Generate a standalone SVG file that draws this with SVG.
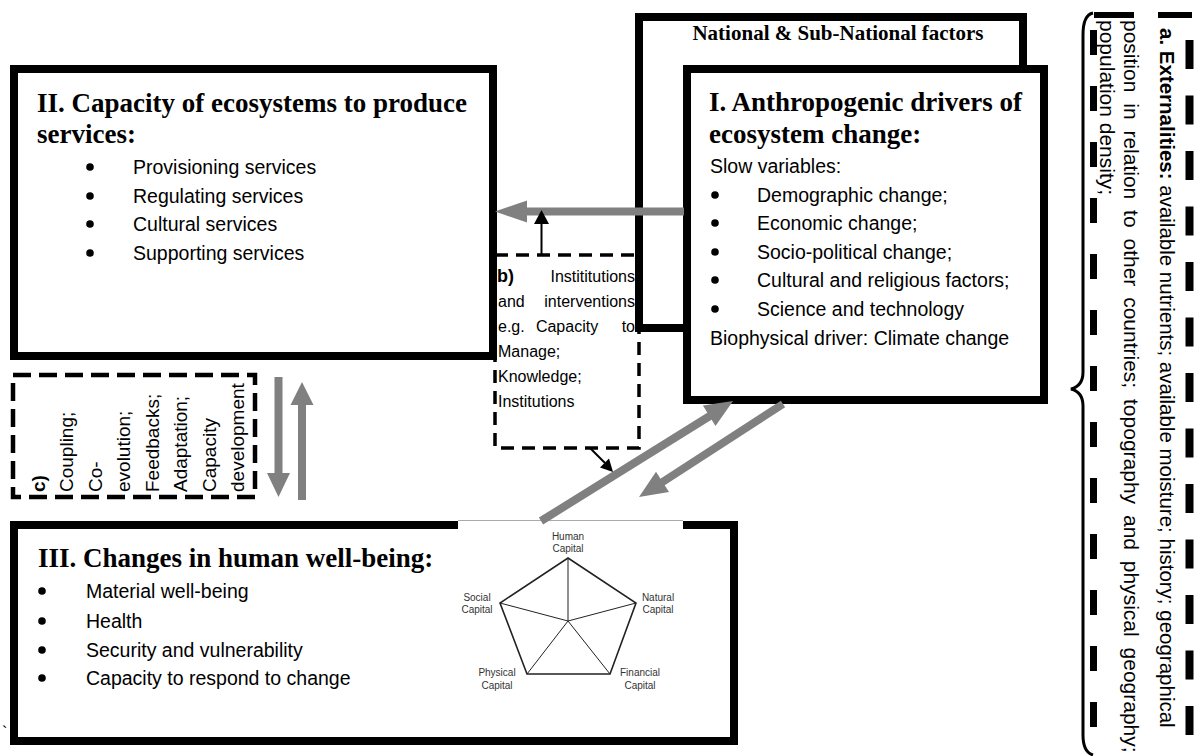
<svg xmlns="http://www.w3.org/2000/svg" width="1194" height="756" viewBox="0 0 1194 756">
<style>
.box{fill:#fff;stroke:#000;stroke-width:8}
.title{font-family:"Liberation Serif","Times New Roman",serif;font-weight:bold;font-size:27px;fill:#000}
.body{font-family:"Liberation Sans",Arial,sans-serif;font-size:19.5px;fill:#000}
.small{font-family:"Liberation Sans",Arial,sans-serif;font-size:16px;fill:#000}
.cap{font-family:"Liberation Sans",Arial,sans-serif;font-size:10px;fill:#333;text-anchor:middle}
.gray{stroke:#808080;stroke-width:8;fill:none}
.grayhead{fill:#808080}
.blk{stroke:#000;stroke-width:2;fill:none}
.blkhead{fill:#000}
.dash{fill:none;stroke:#000}
.bul{fill:#000}
</style>
<rect width="1194" height="756" fill="#fff"/>

<g id="national">
<rect class="box" x="639" y="17" width="384" height="311"/>
<text class="title" x="838" y="40" style="font-size:21px" text-anchor="middle">National &amp; Sub-National factors</text>
</g>

<g id="nodeI">
<rect class="box" x="687" y="69" width="357" height="331"/>
<text class="title" x="709" y="111">I. Anthropogenic drivers of</text>
<text class="title" x="709" y="143">ecosystem change:</text>
<text class="body" x="710" y="173">Slow variables:</text>
<g class="bul">
<circle cx="715" cy="195" r="3.8"/><circle cx="715" cy="223" r="3.8"/><circle cx="715" cy="252" r="3.8"/><circle cx="715" cy="280" r="3.8"/><circle cx="715" cy="309" r="3.8"/>
</g>
<g class="body">
<text x="757" y="202">Demographic change;</text>
<text x="757" y="230">Economic change;</text>
<text x="757" y="259">Socio-political change;</text>
<text x="757" y="287">Cultural and religious factors;</text>
<text x="757" y="316">Science and technology</text>
</g>
<text class="body" x="710" y="345">Biophysical driver: Climate change</text>
</g>

<g id="nodeII">
<rect class="box" x="14" y="69" width="479" height="287"/>
<text class="title" x="37" y="112">II. Capacity of ecosystems to produce</text>
<text class="title" x="37" y="143">services:</text>
<g class="bul">
<circle cx="90" cy="167" r="3.8"/><circle cx="90" cy="196" r="3.8"/><circle cx="90" cy="224" r="3.8"/><circle cx="90" cy="253" r="3.8"/>
</g>
<g class="body">
<text x="133" y="174">Provisioning services</text>
<text x="133" y="203">Regulating services</text>
<text x="133" y="231">Cultural services</text>
<text x="133" y="260">Supporting services</text>
</g>
</g>

<g id="nodeIII">
<rect class="box" x="14" y="525" width="720" height="216"/>
<rect x="458" y="518" width="225" height="13" fill="#fff"/>
<line x1="458" y1="520.5" x2="683" y2="520.5" stroke="#aaa" stroke-width="1"/>
<text class="title" x="38" y="567">III. Changes in human well-being:</text>
<g class="bul">
<circle cx="42" cy="591" r="3.8"/><circle cx="42" cy="621" r="3.8"/><circle cx="42" cy="650" r="3.8"/><circle cx="42" cy="678" r="3.8"/>
</g>
<g class="body">
<text x="86" y="598">Material well-being</text>
<text x="86" y="628">Health</text>
<text x="86" y="657">Security and vulnerability</text>
<text x="86" y="685">Capacity to respond to change</text>
</g>
<text x="2" y="738" style="font-family:'Liberation Sans',Arial,sans-serif;font-size:16px">`</text>
</g>

<g id="capitals">
<polygon points="568,558 636,603 610,674 527,674 500,603" fill="none" stroke="#222" stroke-width="1.6"/>
<g stroke="#222" stroke-width="1">
<line x1="568" y1="621" x2="568" y2="558"/>
<line x1="568" y1="621" x2="636" y2="603"/>
<line x1="568" y1="621" x2="610" y2="674"/>
<line x1="568" y1="621" x2="527" y2="674"/>
<line x1="568" y1="621" x2="500" y2="603"/>
</g>
<text class="cap" x="568" y="540">Human</text><text class="cap" x="568" y="552">Capital</text>
<text class="cap" x="477" y="601">Social</text><text class="cap" x="477" y="613">Capital</text>
<text class="cap" x="658" y="601">Natural</text><text class="cap" x="658" y="613">Capital</text>
<text class="cap" x="497" y="676">Physical</text><text class="cap" x="497" y="689">Capital</text>
<text class="cap" x="640" y="676">Financial</text><text class="cap" x="640" y="689">Capital</text>
</g>

<g id="nodeB">
<rect class="dash" x="495" y="255" width="144" height="193" stroke-width="3.5" stroke-dasharray="13 8"/>
<g class="small">
<text x="497" y="282" font-weight="bold" style="font-size:18px">b)</text>
<text x="635" y="282" text-anchor="end">Instititutions</text>
<text x="498" y="307">and</text>
<text x="635" y="307" text-anchor="end">interventions</text>
<text x="498" y="332">e.g.</text>
<text x="567" y="332" text-anchor="middle">Capacity</text>
<text x="635" y="332" text-anchor="end">to</text>
<text x="498" y="357">Manage;</text>
<text x="498" y="382">Knowledge;</text>
<text x="498" y="407">Institutions</text>
</g>
</g>

<g id="nodeC">
<rect class="dash" x="13" y="375" width="242" height="122" stroke-width="4.5" stroke-dasharray="18 8"/>
<g style="font-family:'Liberation Sans',Arial,sans-serif;font-size:19px">
<text transform="translate(45,492) rotate(-90)" font-weight="bold">c)</text>
<text transform="translate(73,492) rotate(-90)">Coupling;</text>
<text transform="translate(102,492) rotate(-90)">Co-</text>
<text transform="translate(130,492) rotate(-90)">evolution;</text>
<text transform="translate(159,492) rotate(-90)">Feedbacks;</text>
<text transform="translate(187,492) rotate(-90)">Adaptation;</text>
<text transform="translate(216,492) rotate(-90)">Capacity</text>
<text transform="translate(244,492) rotate(-90)">development</text>
</g>
</g>

<g id="nodeA">
<line x1="1094" y1="15" x2="1192" y2="15" stroke="#000" stroke-width="6" stroke-dasharray="40 24"/>
<line x1="1093.5" y1="30" x2="1093.5" y2="756" stroke="#000" stroke-width="7" stroke-dasharray="25 31"/>
<line x1="1189.5" y1="40" x2="1189.5" y2="756" stroke="#000" stroke-width="8" stroke-dasharray="29 26.5"/>
<path d="M1093,13 Q1083,15 1083,35 L1083,372 Q1083,386 1071,389 Q1083,392 1083,406 L1083,735 Q1083,752 1093,755" fill="none" stroke="#000" stroke-width="3"/>
<g style="font-family:'Liberation Sans',Arial,sans-serif;font-size:21px">
<text transform="translate(1160,28) rotate(90)" style="font-size:20.5px"><tspan font-weight="bold">a. Externalities:</tspan> available nutrients; available moisture; history; geographical</text>
<text transform="translate(1124,20) rotate(90)" word-spacing="5">position in relation to other countries; topography and physical geography;</text>
<text transform="translate(1100,20) rotate(90)">population density;</text>
</g>
</g>

<g id="connectors">
<line class="gray" x1="684" y1="211.5" x2="525" y2="211.5"/>
<polygon class="grayhead" points="495,211.5 527,200.5 527,222.5"/>
<line class="blk" x1="541.5" y1="255" x2="541.5" y2="222"/>
<polygon class="blkhead" points="541.5,210 534,224 549,224"/>
<line class="gray" x1="278.5" y1="377" x2="278.5" y2="475"/>
<polygon class="grayhead" points="278.5,497 267,473 290,473"/>
<line class="gray" x1="302" y1="500" x2="302" y2="403"/>
<polygon class="grayhead" points="302,382 290.5,405 313.5,405"/>
<line class="gray" x1="541" y1="521" x2="713" y2="414"/>
<polygon class="grayhead" points="733,401 715.5,426 702.9,405.6"/>
<line class="gray" x1="783" y1="404" x2="661" y2="483"/>
<polygon class="grayhead" points="639,497 656,471.7 669,491.9"/>
<line class="blk" x1="590" y1="448" x2="605" y2="463"/>
<polygon class="blkhead" points="613,472 600,467.5 609,458.5"/>
</g>
</svg>
